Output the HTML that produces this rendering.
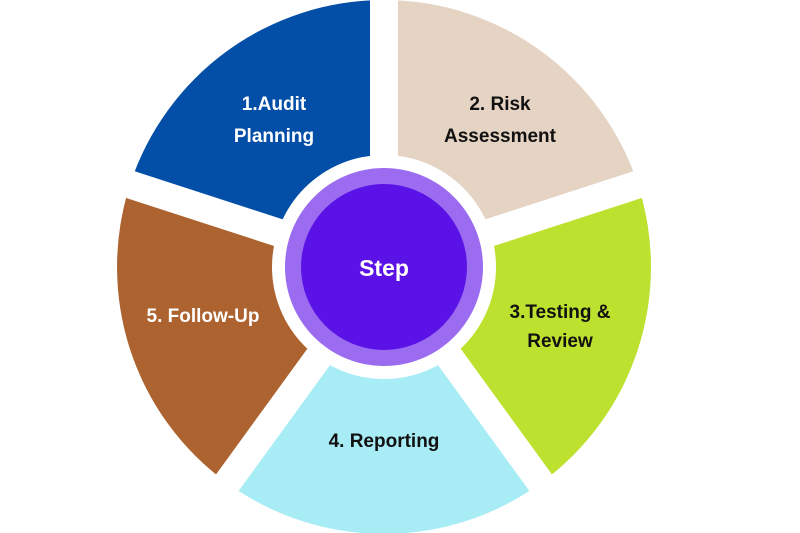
<!DOCTYPE html>
<html><head><style>
html,body{margin:0;padding:0;background:#fff;width:800px;height:533px;overflow:hidden}
text{font-family:"Liberation Sans",sans-serif;font-weight:bold}
</style></head><body>
<svg width="800" height="533" viewBox="0 0 800 533" xmlns="http://www.w3.org/2000/svg">
<g transform="translate(384,267)">
<path d="M0 0 L0 -267 A267 267 0 0 1 253.9 -82.5 Z" fill="#e5d3c3"/>
<path d="M0 0 L253.9 -82.5 A267 267 0 0 1 156.9 216 Z" fill="#bde12f"/>
<path d="M0 0 L156.9 216 A267 267 0 0 1 -156.9 216 Z" fill="#a8ecf6"/>
<path d="M0 0 L-156.9 216 A267 267 0 0 1 -253.9 -82.5 Z" fill="#ac6330"/>
<path d="M0 0 L-253.9 -82.5 A267 267 0 0 1 0 -267 Z" fill="#034ea7"/>
<g stroke="#fff" stroke-width="28">
<line x1="0" y1="0" x2="0" y2="-300"/>
<line x1="0" y1="0" x2="285.3" y2="-92.7"/>
<line x1="0" y1="0" x2="176.3" y2="242.7"/>
<line x1="0" y1="0" x2="-176.3" y2="242.7"/>
<line x1="0" y1="0" x2="-285.3" y2="-92.7"/>
</g>
<circle r="112" fill="#fff"/>
<circle r="99" fill="#9b6cf0"/>
<circle r="83" fill="#5a12e6"/>
</g>
<g font-size="19" text-anchor="middle">
<text x="274" y="110" fill="#fff">1.Audit</text>
<text x="274" y="142" fill="#fff">Planning</text>
<text x="500" y="110" fill="#111">2. Risk</text>
<text x="500" y="142" fill="#111">Assessment</text>
<text x="560" y="318" fill="#111">3.Testing &amp;</text>
<text x="560" y="347" fill="#111">Review</text>
<text x="384" y="447" fill="#111">4. Reporting</text>
<text x="203" y="322" fill="#fff">5. Follow-Up</text>
<text x="384" y="276" fill="#fff" font-size="23">Step</text>
</g>
</svg>
</body></html>
